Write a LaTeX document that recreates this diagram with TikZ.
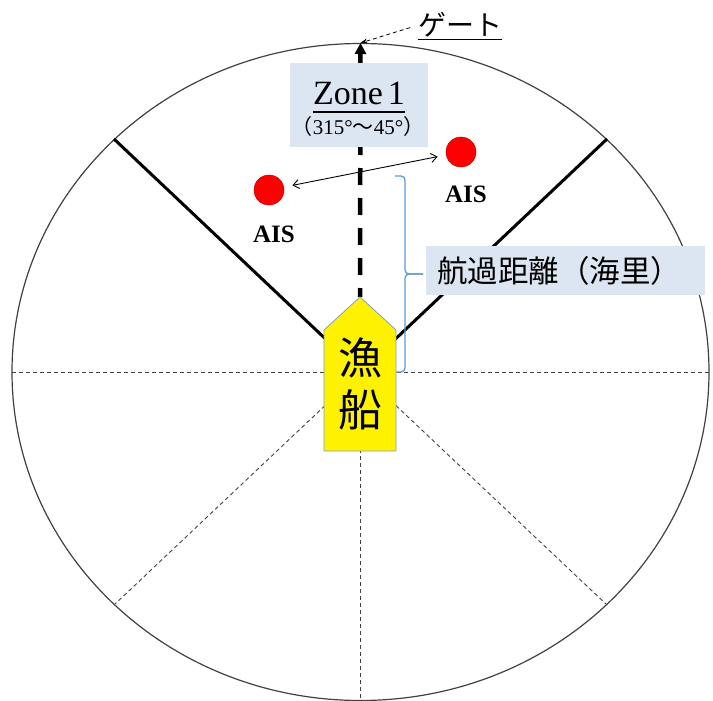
\documentclass[tikz,border=0pt]{standalone}
\usepackage{fontspec}
\setmainfont{Liberation Serif}
\newfontfamily\jp{Noto Sans CJK JP}
\usetikzlibrary{arrows.meta}
\definecolor{boxblue}{HTML}{DCE6F2}
\definecolor{brk}{HTML}{5B9BD5}
\definecolor{shipedge}{HTML}{7F9FCF}
\definecolor{rim}{HTML}{404040}
\begin{document}
\begin{tikzpicture}[x=1pt,y=-1pt,
  rimline/.style={draw=rim, line width=1.2pt},
  thindash/.style={draw=rim, line width=0.9pt, dash pattern=on 4pt off 3pt},
  sector/.style={draw=black, line width=3pt},
  course/.style={draw=black, line width=4.5pt, dash pattern=on 17pt off 13pt, dash phase=8pt},
  gatelead/.style={draw=black, line width=0.8pt, dash pattern=on 4pt off 3pt, -{Stealth[length=7pt,width=5pt]}},
  infobox/.style={fill=boxblue, draw=none, inner sep=0pt},
  aisdot/.style={circle, fill=red, draw=red!75!black, line width=0.5pt, minimum size=30pt, inner sep=0pt},
  aislabel/.style={font=\fontsize{25}{28}\selectfont\bfseries, inner sep=0pt},
  bracestyle/.style={draw=brk, line width=1.3pt, rounded corners=4pt},
]
\useasboundingbox (0,0) rectangle (713,701);
\coordinate (c) at (360.5,372);
\coordinate (nw) at (114,139);
\coordinate (ne) at (607,139);
\coordinate (sw) at (114,605);
\coordinate (se) at (607,605);
\coordinate (bot) at (360.5,700.5);
\coordinate (west) at (12,372);
\coordinate (east) at (709,372);
\coordinate (gate) at (360.5,43);
\coordinate (shiptop) at (360,297);

% rim
\draw[rimline] (c) ellipse [x radius=348.5pt, y radius=328.5pt];
% dashed sector lines
\draw[thindash] (west) -- (east);
\draw[thindash] (c) -- (sw);
\draw[thindash] (c) -- (se);
\draw[thindash] (c) -- (bot);
% Zone 1 sector boundaries
\draw[sector] (c) -- (nw);
\draw[sector] (c) -- (ne);
% course to the gate
\draw[course, -{Triangle[length=11pt,width=11pt]}] (shiptop) -- (gate);

% gate label
\node[font=\jp\fontsize{28}{30}\selectfont, inner sep=0pt, anchor=base] (gt) at (460,36) {ゲート};
\draw[line width=1pt] ([yshift=-3.5pt]gt.base west) -- ([yshift=-3.5pt]gt.base east);
\draw[gatelead, shorten <=8pt] (gt.west) -- (gate);

% Zone 1 box
\node[infobox, minimum width=138pt, minimum height=84pt] (zone) at (359,105) {};
\node[font=\fontsize{34}{36}\selectfont, inner sep=0pt, anchor=base] (zt) at (359,105) {Zone\hspace{5pt}1};
\draw[line width=1.3pt] ([yshift=-7pt]zt.base west) -- ([yshift=-7pt]zt.base east);
\node[font=\fontsize{21}{24}\selectfont, inner sep=0pt, anchor=base] (zr) at (358,135) {{\jp （}315°{\jp ～}45°{\jp ）}};

% AIS targets
\node[aisdot] (aisL) at (269,190) {};
\node[aisdot] (aisR) at (461,152) {};
\node[aislabel] (aisLt) at (274,234) {AIS};
\node[aislabel] (aisRt) at (466,194) {AIS};
\draw[line width=0.9pt, {Straight Barb[length=6pt,width=9pt]}-{Straight Barb[length=6pt,width=9pt]}, shorten <=8.5pt, shorten >=8.5pt] (aisL) -- (aisR);

% brace
\draw[bracestyle] (395,176) -| (405,274) -- (423,274);
\draw[bracestyle] (423,274) -- (405,274) |- (395,372);

% distance label
\node[infobox, anchor=west, minimum height=49pt, text width=257pt, inner xsep=11pt, align=left, font=\jp\fontsize{30.5}{32}\selectfont] (dist) at (426,270.5) {航過距離（海里）};

% fishing boat
\draw[fill=yellow, draw=shipedge, line width=0.8pt] (324,451) -- (396,451) -- (396,330) -- (shiptop) -- (324,330) -- cycle;
\node[font=\jp\fontsize{44}{52}\selectfont, align=center, inner sep=0pt] (shiptxt) at (360,384) {漁\\船};
\end{tikzpicture}
\end{document}
